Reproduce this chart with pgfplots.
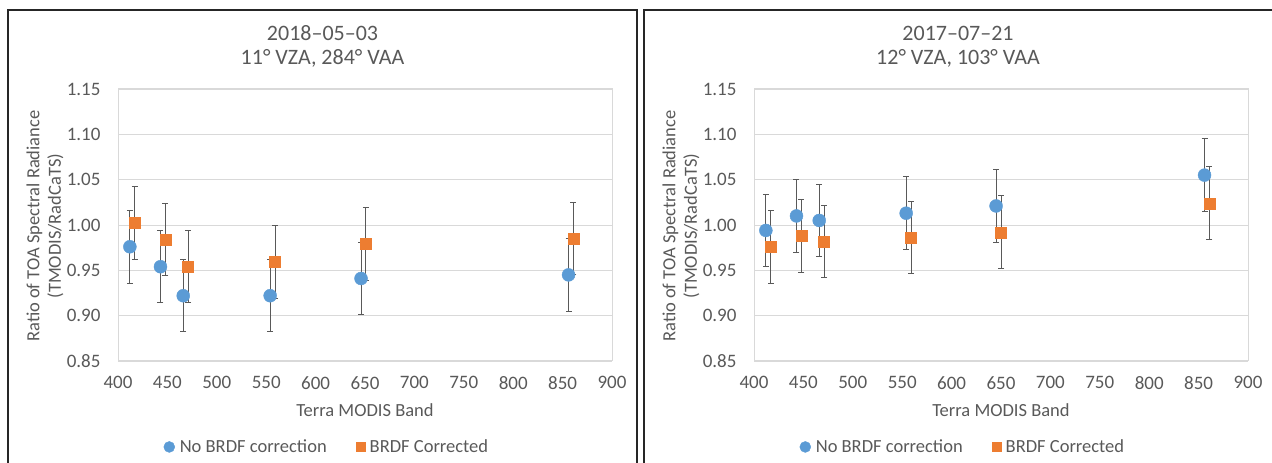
\documentclass[border=0pt]{standalone}
\usepackage{pgfplots}
\pgfplotsset{compat=1.18}
\usepackage{fontspec}
\setmainfont{Carlito}
\definecolor{cblue}{HTML}{5B9BD5}
\definecolor{corange}{HTML}{ED7D31}
\definecolor{ctext}{HTML}{595959}
\definecolor{cgrid}{HTML}{D9D9D9}
\definecolor{cerr}{HTML}{595959}

\pgfplotsset{
  panel/.style={
    scale only axis, width=494pt, height=272pt,
    xmin=400, xmax=900, ymin=0.85, ymax=1.15,
    xtick={400,450,...,900},
    ytick={0.85,0.90,...,1.151},
    yticklabel style={/pgf/number format/fixed, /pgf/number format/fixed zerofill, /pgf/number format/precision=2},
    /pgf/number format/assume math mode=true,
    ymajorgrids, grid style={cgrid, line width=0.9pt},
    axis line style={cgrid, line width=1pt},
    major tick length=0pt,
    tick label style={font=\fontsize{19}{22}\selectfont, text=ctext},
    xticklabel style={yshift=-12pt},
    yticklabel style={xshift=-14pt},
    label style={font=\fontsize{18.5}{21.5}\selectfont, text=ctext},
    xlabel={Terra MODIS Band},
    xlabel style={at={(axis description cs:0.5,-0.18)}, anchor=center},
    ylabel={Ratio of TOA Spectral Radiance\\(TMODIS/RadCaTS)},
    ylabel style={align=center, at={(axis description cs:-0.148,0.496)}, anchor=center, rotate=0},
    legend columns=2,
    legend style={draw=none, fill=none, font=\fontsize{18.5}{21.5}\selectfont, text=ctext,
      /tikz/every odd column/.append style={column sep=3pt},
      /tikz/every even column/.append style={column sep=27pt}, inner sep=0pt},
    legend cell align=left,
  },
  blueser/.style={forget plot, only marks, mark=*, mark size=6.5pt, color=cblue,
    mark options={draw=cblue, fill=cblue},
    error bars/.cd, y dir=both, y explicit,
    error bar style={cerr, line width=1pt},
    error mark options={cerr, line width=1pt, mark size=3pt, rotate=90}},
  orangeser/.style={forget plot, only marks, mark=square*, mark size=5.5pt, color=corange,
    mark options={draw=corange, fill=corange},
    error bars/.cd, y dir=both, y explicit,
    error bar style={cerr, line width=1pt},
    error mark options={cerr, line width=1pt, mark size=3pt, rotate=90}},
}

\begin{document}
\begin{tikzpicture}
\useasboundingbox (0,0) rectangle (1272pt,463pt);
\draw[line width=1.6pt, black!85] (8pt,-20pt) -- (8pt,453pt) -- (637pt,453pt) -- (637pt,-20pt);
\draw[line width=1.6pt, black!85] (644pt,-20pt) -- (644pt,453pt) -- (1290pt,453pt);

\node[font=\fontsize{22}{25}\selectfont, text=ctext] at (322.5pt,430pt) {2018–05–03};
\node[font=\fontsize{22}{25}\selectfont, text=ctext] at (322.5pt,405pt) {11° VZA, 284° VAA};
\node[font=\fontsize{22}{25}\selectfont, text=ctext] at (958pt,430pt) {2017–07–21};
\node[font=\fontsize{22}{25}\selectfont, text=ctext] at (958pt,405pt) {12° VZA, 103° VAA};

\begin{axis}[panel, at={(118pt,102pt)}, anchor=south west,
  legend style={at={(axis description cs:0.423,-0.316)}, anchor=center}]
\addlegendimage{only marks, mark=*, mark size=5.5pt, color=cblue, mark options={fill=cblue}}
\addlegendentry{No BRDF correction}
\addlegendimage{only marks, mark=square*, mark size=4.5pt, color=corange, mark options={fill=corange}}
\addlegendentry{BRDF Corrected}
\addplot[blueser] coordinates {
 (412,0.976) +- (0,0.04)
 (443,0.954) +- (0,0.04)
 (466,0.922) +- (0,0.04)
 (554,0.922) +- (0,0.04)
 (646,0.941) +- (0,0.04)
 (856,0.945) +- (0,0.04)
};
\addplot[orangeser] coordinates {
 (417,1.002) +- (0,0.04)
 (448,0.984) +- (0,0.04)
 (471,0.954) +- (0,0.04)
 (559,0.959) +- (0,0.04)
 (651,0.979) +- (0,0.04)
 (861,0.985) +- (0,0.04)
};
\end{axis}

\begin{axis}[panel, at={(754pt,102pt)}, anchor=south west,
  legend style={at={(axis description cs:0.423,-0.316)}, anchor=center}]
\addlegendimage{only marks, mark=*, mark size=5.5pt, color=cblue, mark options={fill=cblue}}
\addlegendentry{No BRDF correction}
\addlegendimage{only marks, mark=square*, mark size=4.5pt, color=corange, mark options={fill=corange}}
\addlegendentry{BRDF Corrected}
\addplot[blueser] coordinates {
 (412,0.994) +- (0,0.04)
 (443,1.010) +- (0,0.04)
 (466,1.005) +- (0,0.04)
 (554,1.013) +- (0,0.04)
 (645,1.021) +- (0,0.04)
 (856,1.055) +- (0,0.04)
};
\addplot[orangeser] coordinates {
 (417,0.976) +- (0,0.04)
 (448,0.988) +- (0,0.04)
 (471,0.982) +- (0,0.04)
 (559,0.986) +- (0,0.04)
 (650,0.992) +- (0,0.04)
 (861,1.024) +- (0,0.04)
};
\end{axis}
\end{tikzpicture}
\end{document}
